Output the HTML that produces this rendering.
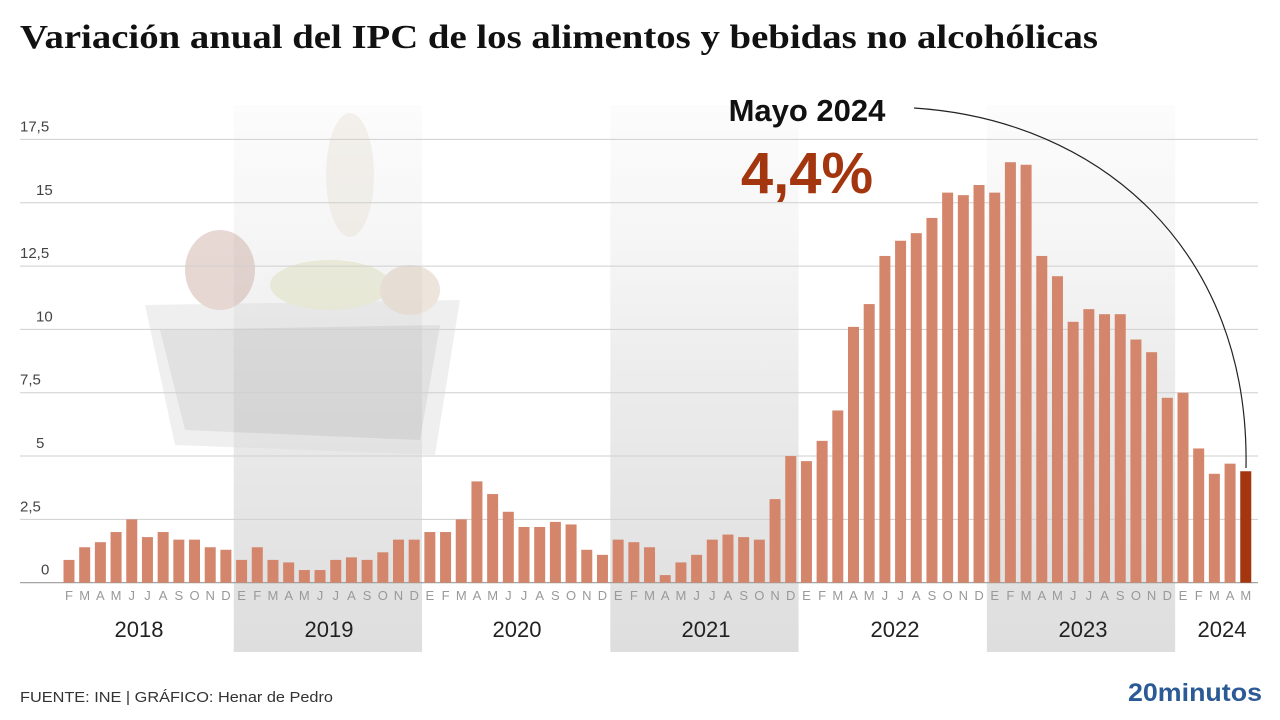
<!DOCTYPE html>
<html><head><meta charset="utf-8">
<style>
html,body{margin:0;padding:0;background:#fff;width:1280px;height:720px;overflow:hidden}
svg{display:block}
</style></head>
<body>
<svg id="c" width="1280" height="720" xmlns="http://www.w3.org/2000/svg">
<defs>
<linearGradient id="band" x1="0" y1="0" x2="0" y2="1">
<stop offset="0" stop-color="#f4f4f4" stop-opacity="0.3"/>
<stop offset="0.5" stop-color="#ececec"/>
<stop offset="1" stop-color="#dedede"/>
</linearGradient>
</defs>
<text x="20" y="48" textLength="1078" lengthAdjust="spacingAndGlyphs" font-family="Liberation Serif, serif" font-weight="bold" font-size="34" fill="#111">Variación anual del IPC de los alimentos y bebidas no alcohólicas</text>
<g id="bands"></g>
<g id="basket" opacity="0.45">
<ellipse cx="350" cy="175" rx="24" ry="62" fill="#e8e2d8"/>
<path d="M145 305 L460 300 L435 455 L175 445 Z" fill="#dcdcdc"/>
<path d="M160 330 L440 325 L420 440 L185 430 Z" fill="#bdbdbd"/>
<ellipse cx="220" cy="270" rx="35" ry="40" fill="#c9a8a0"/>
<ellipse cx="330" cy="285" rx="60" ry="25" fill="#dcdcb8"/>
<ellipse cx="410" cy="290" rx="30" ry="25" fill="#d8c4b0"/>
</g>
<g id="grid"></g>
<g id="bars"></g>
<g id="labels" font-family="Liberation Sans, sans-serif"></g>
<text x="807" y="121" text-anchor="middle" font-family="Liberation Sans, sans-serif" font-weight="bold" font-size="31" fill="#111">Mayo 2024</text>
<text x="807" y="193" text-anchor="middle" font-family="Liberation Sans, sans-serif" font-weight="bold" font-size="58" fill="#a3360f">4,4%</text>
<path d="M914 108 C 1100 120, 1250 250, 1246 468" fill="none" stroke="#222" stroke-width="1.2"/>
<text x="20" y="702" textLength="313" lengthAdjust="spacingAndGlyphs" font-family="Liberation Sans, sans-serif" font-size="15" fill="#333">FUENTE: INE  |  GRÁFICO: Henar de Pedro</text>
<text x="1262" y="701" text-anchor="end" textLength="134" lengthAdjust="spacingAndGlyphs" font-family="Liberation Sans, sans-serif" font-weight="bold" font-size="25" fill="#2b5a94">20minutos</text>
</svg>
<script>
var v=[0.9,1.4,1.6,2.0,2.5,1.8,2.0,1.7,1.7,1.4,1.3,
0.9,1.4,0.9,0.8,0.5,0.5,0.9,1.0,0.9,1.2,1.7,1.7,
2.0,2.0,2.5,4.0,3.5,2.8,2.2,2.2,2.4,2.3,1.3,1.1,
1.7,1.6,1.4,0.3,0.8,1.1,1.7,1.9,1.8,1.7,3.3,5.0,
4.8,5.6,6.8,10.1,11.0,12.9,13.5,13.8,14.4,15.4,15.3,15.7,
15.4,16.6,16.5,12.9,12.1,10.3,10.8,10.6,10.6,9.6,9.1,7.3,
7.5,5.3,4.3,4.7,4.4];
var m="EFMAMJJASOND";
var NS="http://www.w3.org/2000/svg";
function el(p,t,a,txt){var e=document.createElementNS(NS,t);for(var k in a)e.setAttribute(k,a[k]);if(txt!=null)e.textContent=txt;document.getElementById(p).appendChild(e);return e;}
var x0=69,dx=15.69,z=582.7,u=25.33;
function cx(i){return x0+i*dx;}
[11,35,59].forEach(function(s){el("bands","rect",{x:cx(s)-dx/2,y:105,width:dx*12,height:547,fill:"url(#band)"});});
var ticks=["0","2,5","5","7,5","10","12,5","15","17,5"];
for(var k=0;k<8;k++){var y=z-k*2.5*u;
el("grid","line",{x1:20,x2:1258,y1:y,y2:y,stroke:k==0?"#999":"#cfcfcf","stroke-width":k==0?1.2:1});
el("labels","text",{x:k==0?41:(ticks[k].length>2?20:36),y:y-8,"font-size":15,fill:"#444"},ticks[k]);}
for(var i=0;i<v.length;i++){var h=v[i]*u;
el("bars","rect",{x:cx(i)-5.5,y:z-h,width:11,height:h,fill:i==v.length-1?"#a3360f":"#d4866c"});
el("labels","text",{x:cx(i),y:600,"text-anchor":"middle","font-size":13,fill:"#999"},m[(i+1)%12]);}
var yrs=[["2018",139],["2019",329],["2020",517],["2021",706],["2022",895],["2023",1083],["2024",1222]];
yrs.forEach(function(a){el("labels","text",{x:a[1],y:637,"text-anchor":"middle","font-size":22,fill:"#222"},a[0]);});
</script>
</body></html>
